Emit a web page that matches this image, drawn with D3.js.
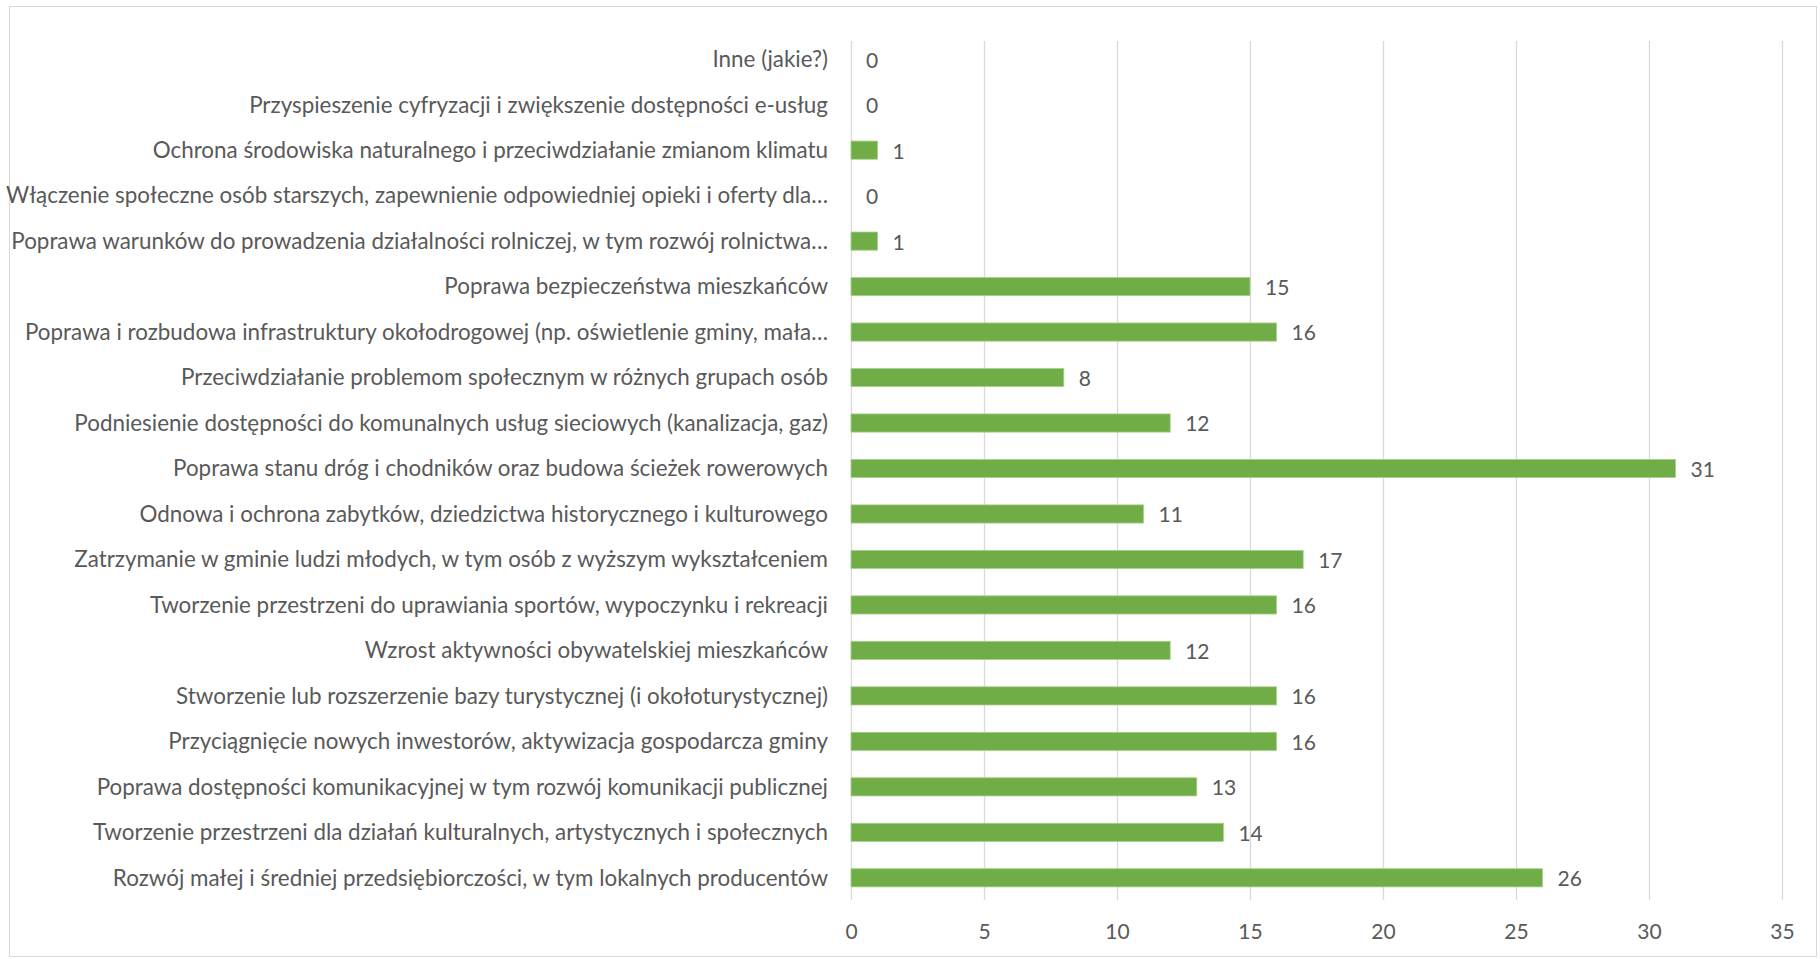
<!DOCTYPE html>
<html>
<head>
<meta charset="utf-8">
<script src="https://cdn.jsdelivr.net/npm/d3@7"></script>
<style>
  body { margin: 0; background: #fff; }
  text { font-family: Lato, "Noto Sans", sans-serif; fill: #595959; }
</style>
</head>
<body>
<div id="chart"></div>
<script>
// categories, top to bottom as they appear in the chart
var categories = [
    "Inne (jakie?)",
    "Przyspieszenie cyfryzacji i zwiększenie dostępności e-usług",
    "Ochrona środowiska naturalnego i przeciwdziałanie zmianom klimatu",
    "Włączenie społeczne osób starszych, zapewnienie odpowiedniej opieki i oferty dla…",
    "Poprawa warunków do prowadzenia działalności rolniczej, w tym rozwój rolnictwa…",
    "Poprawa bezpieczeństwa mieszkańców",
    "Poprawa i rozbudowa infrastruktury okołodrogowej (np. oświetlenie gminy, mała…",
    "Przeciwdziałanie problemom społecznym w różnych grupach osób",
    "Podniesienie dostępności do komunalnych usług sieciowych (kanalizacja, gaz)",
    "Poprawa stanu dróg i chodników oraz budowa ścieżek rowerowych",
    "Odnowa i ochrona zabytków, dziedzictwa historycznego i kulturowego",
    "Zatrzymanie w gminie ludzi młodych, w tym osób z wyższym wykształceniem",
    "Tworzenie przestrzeni do uprawiania sportów, wypoczynku i rekreacji",
    "Wzrost aktywności obywatelskiej mieszkańców",
    "Stworzenie lub rozszerzenie bazy turystycznej (i okołoturystycznej)",
    "Przyciągnięcie nowych inwestorów, aktywizacja gospodarcza gminy",
    "Poprawa dostępności komunikacyjnej w tym rozwój komunikacji publicznej",
    "Tworzenie przestrzeni dla działań kulturalnych, artystycznych i społecznych",
    "Rozwój małej i średniej przedsiębiorczości, w tym lokalnych producentów"
];

// number of answers for each category
var values = [0, 0, 1, 0, 1, 15, 16, 8, 12, 31, 11, 17, 16, 12, 16, 16, 13, 14, 26];

// x axis ticks
var xTicks = [0, 5, 10, 15, 20, 25, 30, 35];

var width = 1820, height = 959;
var plotLeft = 851, plotRight = 1782, plotTop = 41, plotBottom = 900;

var svg = d3.select("#chart")
    .append("svg")
    .attr("width", width)
    .attr("height", height);

// chart border like the excel chart area
svg.append("rect")
    .attr("x", 9.5)
    .attr("y", 6.5)
    .attr("width", 1807)
    .attr("height", 950)
    .attr("fill", "#fff")
    .attr("stroke", "#d9d9d9");

var x = d3.scaleLinear()
    .domain([0, 35])
    .range([plotLeft, plotRight]);

// bands sit a little higher than the gridlines bottom
var y = d3.scaleBand()
    .domain(categories)
    .range([plotTop, 896])
    .paddingInner(0.6)
    .paddingOuter(0.2);

// vertical gridlines + tick labels
var xAxis = d3.axisBottom(x)
    .tickValues(xTicks)
    .tickSize(-(plotBottom - plotTop))
    .tickPadding(24);

var gx = svg.append("g")
    .attr("transform", "translate(0," + plotBottom + ")")
    .call(xAxis);
gx.select(".domain").remove();
gx.selectAll(".tick line").attr("stroke", "#d9d9d9").attr("stroke-width", 1.3);
gx.selectAll(".tick text")
    .style("font-size", "21px")
    .attr("fill", "#595959");

// category labels
svg.append("g")
    .selectAll("text")
    .data(categories)
    .enter()
    .append("text")
    .attr("x", 828)
    .attr("y", function(d) { return y(d) + y.bandwidth() / 2; })
    .attr("dy", "0.35em")
    .attr("text-anchor", "end")
    .style("font-size", "22.4px")
    .text(function(d) { return d; });

// the bars
svg.append("g")
    .selectAll("rect")
    .data(values)
    .enter()
    .append("rect")
    .attr("x", x(0))
    .attr("y", function(d, i) { return y(categories[i]); })
    .attr("width", function(d) { return x(d) - x(0); })
    .attr("height", y.bandwidth())
    .attr("fill", "#70ad47")
    .attr("stroke", function(d) { return d > 0 ? "#a9d18e" : "none"; })
    .attr("stroke-width", 0.8);

// value labels at the bar ends
svg.append("g")
    .selectAll("text")
    .data(values)
    .enter()
    .append("text")
    .attr("x", function(d) { return x(d) + 15; })
    .attr("y", function(d, i) { return y(categories[i]) + y.bandwidth() / 2; })
    .attr("dy", "0.4em")
    .style("font-size", "21px")
    .text(function(d) { return d; });
</script>
</body>
</html>
